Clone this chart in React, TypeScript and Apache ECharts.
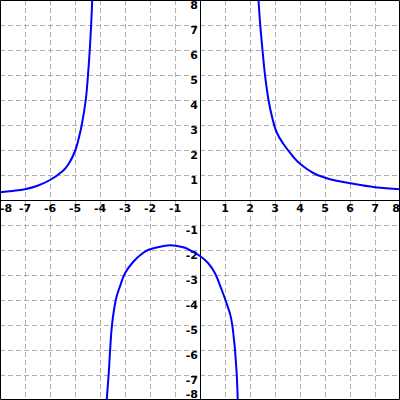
import React, { useEffect, useRef } from "react";
import * as echarts from "echarts";

const leftBranch: [number, number][] = [
  [-8, 0.31], [-7.5, 0.36], [-7, 0.43], [-6.5, 0.57], [-6, 0.8], [-5.5, 1.15],
  [-5.25, 1.45], [-5, 1.95], [-4.88, 2.35], [-4.73, 3], [-4.57, 4], [-4.48, 5],
  [-4.41, 6], [-4.355, 7], [-4.31, 8], [-4.27, 9],
];
const middleBranch: [number, number][] = [
  [-3.78, -9], [-3.73, -8], [-3.655, -7], [-3.595, -6], [-3.52, -5],
  [-3.37, -4], [-3.2, -3.45], [-3, -2.93], [-2.67, -2.47], [-2.27, -2.11],
  [-2, -1.97], [-1.5, -1.85], [-1.2, -1.81], [-0.67, -1.89], [-0.4, -2.01],
  [0, -2.24], [0.33, -2.53], [0.6, -2.93], [0.87, -3.6], [1.0, -3.95],
  [1.2, -4.55], [1.29, -5], [1.35, -5.5], [1.4, -6], [1.47, -7], [1.51, -8],
  [1.54, -9],
];
const rightBranch: [number, number][] = [
  [2.28, 9], [2.34, 8], [2.41, 7], [2.5, 6], [2.6, 5], [2.74, 4], [2.9, 3.25],
  [3.07, 2.7], [3.33, 2.25], [3.73, 1.73], [4, 1.45], [4.53, 1.08],
  [5.2, 0.83], [6, 0.67], [7, 0.51], [8, 0.43],
];
const axisMin = -8;
const axisMax = 8;
const tickStep = 1;

const labelFmt = (v: number) => (v === 0 ? "" : String(v));

export default function App() {
  const ref = useRef<HTMLDivElement>(null);
  useEffect(() => {
    if (!ref.current) return;
    const chart = echarts.init(ref.current, null, { renderer: "svg" });
    const font = {
      fontFamily: "DejaVu Sans",
      fontWeight: "bold" as const,
      fontSize: 11,
      color: "#000",
    };
    const splitLine = {
      show: true,
      lineStyle: { color: "#b0b0b0", type: [5, 3] as any, width: 1 },
    };
    const mkSeries = (data: [number, number][]) => ({
      type: "line",
      data,
      showSymbol: false,
      smooth: 0.4,
      clip: true,
      lineStyle: { color: "#0000ff", width: 2 },
      itemStyle: { color: "#0000ff" },
    });
    chart.setOption({
      animation: false,
      grid: {
        left: 0,
        right: 0,
        top: 0,
        bottom: 0,
        containLabel: false,
        outerBoundsMode: "none",
      },
      xAxis: {
        type: "value",
        min: axisMin,
        max: axisMax,
        interval: tickStep,
        position: "bottom",
        offset: -200,
        axisLine: { onZero: false, lineStyle: { color: "#000", width: 1 } },
        axisTick: { show: false },
        splitLine,
        axisLabel: {
          ...font,
          margin: 3,
          formatter: labelFmt,
          showMinLabel: true,
          showMaxLabel: true,
          alignMinLabel: "left",
          alignMaxLabel: "right",
        },
      },
      yAxis: {
        type: "value",
        min: axisMin,
        max: axisMax,
        interval: tickStep,
        position: "left",
        offset: -200,
        axisLine: { onZero: false, lineStyle: { color: "#000", width: 1 } },
        axisTick: { show: false },
        splitLine,
        axisLabel: {
          ...font,
          margin: 2,
          verticalAlign: "top",
          formatter: labelFmt,
          showMinLabel: true,
          showMaxLabel: true,
          verticalAlignMinLabel: "bottom",
          verticalAlignMaxLabel: "top",
        },
      },
      graphic: [
        {
          type: "rect",
          shape: { x: 0.5, y: 0.5, width: 399, height: 399 },
          style: { fill: "none", stroke: "#000", lineWidth: 1 },
          z: 100,
        },
      ],
      series: [mkSeries(leftBranch), mkSeries(middleBranch), mkSeries(rightBranch)],
    });
    return () => chart.dispose();
  }, []);
  return (
    <div
      ref={ref}
      style={{ position: "fixed", left: 0, top: 0, width: 400, height: 400, background: "#fff" }}
    />
  );
}
